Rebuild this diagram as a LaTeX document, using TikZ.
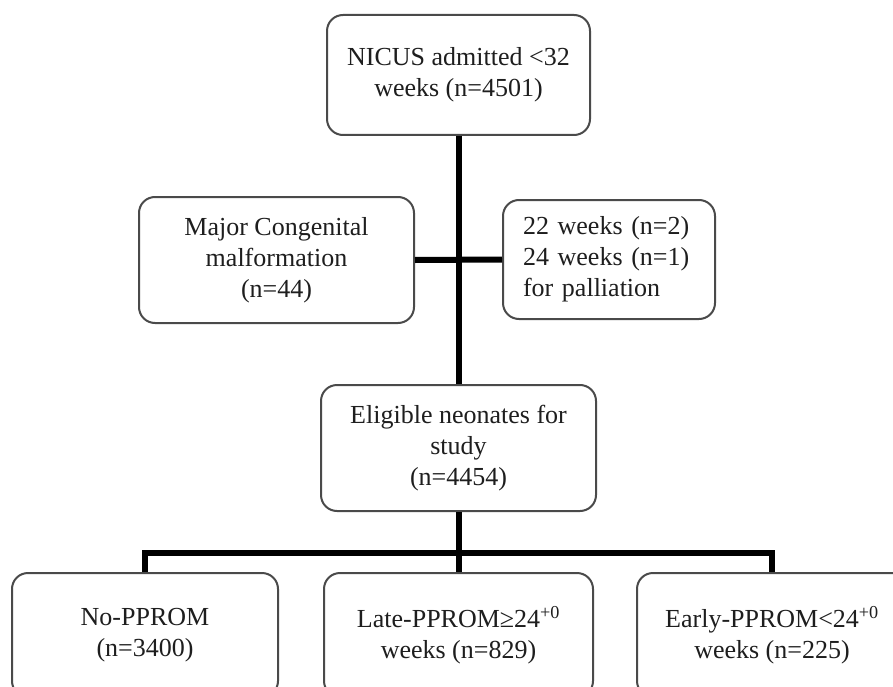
\documentclass[tikz,border=0pt]{standalone}
\usepackage{fontspec}
\setmainfont{Liberation Serif}
\definecolor{boxline}{HTML}{4A4A4A}
\definecolor{txt}{HTML}{1E1E1E}
\tikzset{
  fbox/.style={draw=boxline, line width=2pt, rounded corners=16pt, rectangle,
    align=center, text=txt, inner sep=0pt,
    font=\fontsize{26}{31}\selectfont},
  conn/.style={line width=6pt, black},
}
\begin{document}
\begin{tikzpicture}[x=1pt,y=-1pt]
\clip (0,0) rectangle (893,687);
\fill[white] (0,0) rectangle (893,687);
\node[fbox, minimum width=263pt, minimum height=120pt] (top) at (458.5,75)
  {NICUS admitted <32\\weeks (n=4501)};
\node[fbox, minimum width=275pt, minimum height=126pt] (major) at (276.5,260)
  {Major Congenital\\malformation\\(n=44)};
\node[fbox, minimum width=212pt, minimum height=119pt, align=left, text width=172pt] (pall) at (609,259.5)
  {22 weeks (n=2)\\24 weeks (n=1)\\for palliation};
\node[fbox, minimum width=275pt, minimum height=126pt] (elig) at (458.5,448)
  {Eligible neonates for\\study\\(n=4454)};
\node[fbox, minimum width=266pt, minimum height=124pt] (no) at (145,635)
  {No-PPROM\\(n=3400)};
\node[fbox, minimum width=269pt, minimum height=124pt] (late) at (458.5,635)
  {Late-PPROM≥24\textsuperscript{+0}\\weeks (n=829)};
\node[fbox, minimum width=270pt, minimum height=124pt] (early) at (772,635)
  {Early-PPROM<24\textsuperscript{+0}\\weeks (n=225)};
\coordinate (jbot) at (458.5,553);
\draw[conn] (top.south) -- (elig.north);
\draw[conn] (major.east) -- (pall.west);
\draw[conn] (elig.south) -- (jbot);
\draw[conn] (no.north) |- (jbot);
\draw[conn] (early.north) |- (jbot);
\draw[conn] (jbot) -- (late.north);
\end{tikzpicture}
\end{document}
